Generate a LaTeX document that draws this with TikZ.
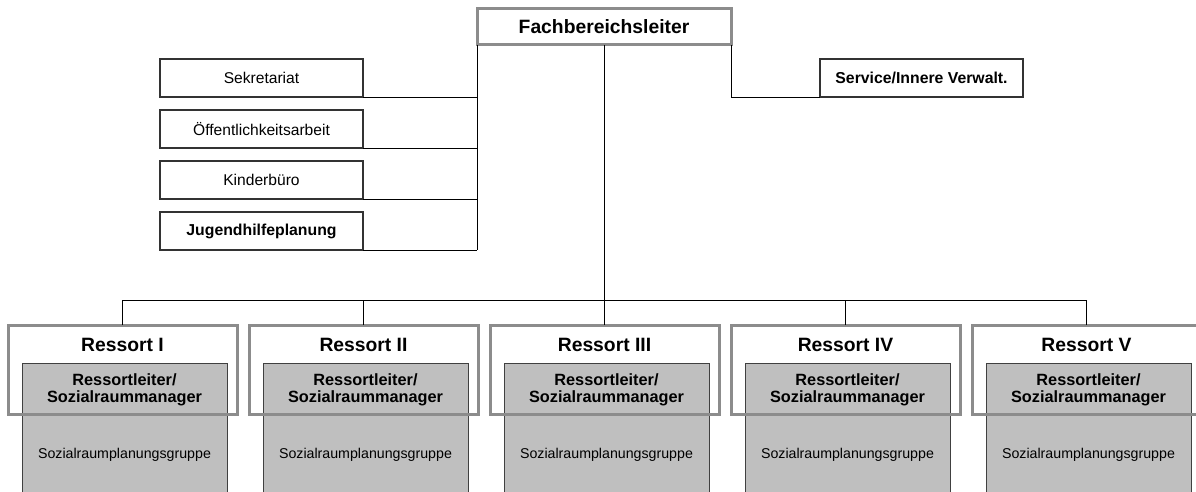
\documentclass[tikz,border=0pt]{standalone}
\usepackage{fontspec}
\setmainfont{Liberation Sans}
\begin{document}
\begin{tikzpicture}[x=1pt,y=-1pt,
  conn/.style={draw=black,line width=0.9pt},
  smallbox/.style={draw=black!80,line width=1.1pt,minimum width=203pt,minimum height=38pt,inner sep=0pt,outer sep=0pt,font=\fontsize{15.6}{18}\selectfont},
  boldsmall/.style={font=\bfseries\fontsize{15.8}{18}\selectfont},
  frame/.style={draw=black!45,line width=3pt,inner sep=0pt,outer sep=0pt},
  inner/.style={draw=black!75,line width=1pt,fill=black!25,minimum width=205pt,minimum height=137pt,inner sep=0pt,outer sep=0pt},
  ttl/.style={font=\bfseries\fontsize{19.3}{22}\selectfont,inner sep=0pt},
  mgr/.style={font=\bfseries\fontsize{16.3}{16.5}\selectfont,align=center,inner sep=0pt},
  grp/.style={font=\fontsize{14.2}{16}\selectfont,inner sep=0pt}
]
\useasboundingbox (0,0) rectangle (1196,492);
\clip (0,0) rectangle (1196,492);

% top
\node[frame,minimum width=254pt,minimum height=36pt,ttl] (fbl) at (604,27) {Fachbereichsleiter};

% left staff boxes
\node[smallbox] (sek) at (261.5,78) {Sekretariat};
\node[smallbox] (oef) at (261.5,129) {Öffentlichkeitsarbeit};
\node[smallbox] (kin) at (261.5,180) {Kinderbüro};
\node[smallbox,boldsmall] (jug) at (261.5,231) {Jugendhilfeplanung};

% right staff box
\node[smallbox,boldsmall] (svc) at (921.5,78) {Service/Innere Verwalt.};

\coordinate (bus) at (604,300);

% ressorts
\foreach \i/\r in {1/I,2/II,3/III,4/IV,5/V}{
  \pgfmathsetmacro{\cx}{122.5+241*(\i-1)}
  \pgfmathsetmacro{\ix}{124.5+241*(\i-1)}
  \node[inner] (m\i) at (\ix,431.5) {};
  \node[frame,minimum width=229pt,minimum height=89pt] (r\i) at (\cx,369.5) {};
  \node[ttl] (t\i) at (\cx,345) {Ressort \r};
  \node[mgr] (l\i) at (\ix,390) {Ressortleiter/\\Sozialraummanager};
  \node[grp] (g\i) at (\ix,455) {Sozialraumplanungsgruppe};
}

% connectors
\draw[conn] (fbl.south) -- (bus);
\draw[conn] (r1.north) -- (r1.north |- bus) -- (r5.north |- bus) -- (r5.north);
\foreach \i in {2,3,4}{\draw[conn] (r\i.north) -- (r\i.north |- bus);}
\draw[conn] (fbl.south west) -- (fbl.south west |- jug.south east);
\foreach \n in {sek,oef,kin,jug}{\draw[conn] (\n.south east) -- (\n.south east -| fbl.south west);}
\draw[conn] (fbl.south east) |- (svc.south west);
\end{tikzpicture}
\end{document}
